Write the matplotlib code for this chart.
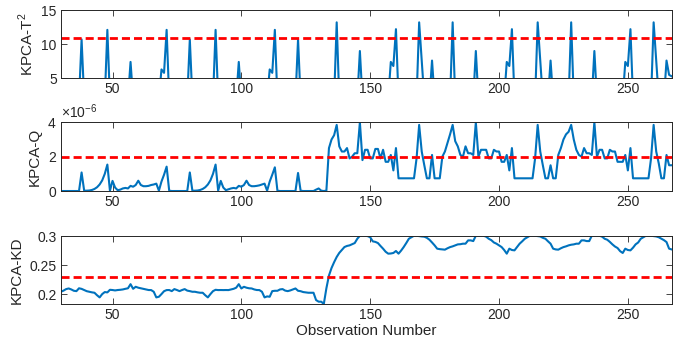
import matplotlib.pyplot as plt
import matplotlib as mpl
import numpy as np
from matplotlib.ticker import ScalarFormatter

mpl.rcParams.update({'font.size': 10,
                     'font.family': ['Liberation Sans', 'DejaVu Sans'],
                     'mathtext.fontset': 'custom',
                     'mathtext.rm': 'Liberation Sans',
                     'axes.unicode_minus': False})

# 观测序号
obs = np.arange(30, 268)

# KPCA-T2 统计量 (低于5的部分被坐标轴截掉)
t2_vals = [2, 2, 2, 2, 2, 2, 2, 2, 10.7, 2,
           2, 2, 2, 2, 2, 2, 2, 2, 12.1, 2,
           2, 2, 2, 2, 2, 2, 2, 7.4, 2, 2,
           2, 2, 2, 2, 2, 2, 2, 2, 2, 6.3,
           5.8, 12.1, 2, 2, 2, 2, 2, 2, 2, 2,
           10.7, 2, 2, 2, 2, 2, 2, 2, 2, 2,
           12.1, 2, 2, 2, 2, 2, 2, 2, 2, 7.4,
           2, 2, 2, 2, 2, 2, 2, 2, 2, 2,
           2, 6.3, 5.8, 12.1, 2, 2, 2, 2, 2, 2,
           2, 2, 10.7, 2, 2, 2, 2, 2, 2, 2,
           2, 2, 2, 2, 2, 2, 2, 13.2, 2, 2,
           2, 2, 2, 2, 2, 2, 9.0, 2, 2, 2,
           2, 2, 2, 2, 2, 2, 2, 2, 7.4, 6.8,
           12.2, 2, 2, 2, 2, 2, 2, 2, 2, 13.2,
           7.5, 2, 2, 2, 7.6, 2, 2, 2, 2, 2,
           2, 2, 13.2, 2, 2, 2, 2, 2, 2, 2,
           2, 9.0, 2, 2, 2, 2, 2, 2, 2, 2,
           2, 2, 2, 7.4, 6.8, 12.2, 2, 2, 2, 2,
           2, 2, 2, 2, 2, 13.2, 7.5, 2, 2, 2,
           7.6, 2, 2, 2, 2, 2, 2, 2, 13.2, 2,
           2, 2, 2, 2, 2, 2, 2, 9.0, 2, 2,
           2, 2, 2, 2, 2, 2, 2, 2, 2, 7.4,
           6.8, 12.2, 2, 2, 2, 2, 2, 2, 2, 2,
           13.2, 7.5, 2, 2, 2, 7.6, 5.5, 5.3]
t2_limit = 10.9

# KPCA-Q 统计量 (单位 1e-6)
q_vals = [0, 0, 0, 0, 0, 0, 0, 0, 1.08, 0.02,
          0.02, 0.03, 0.06, 0.12, 0.22, 0.38, 0.62, 1.0, 1.54, 0.02,
          0.59, 0.2, 0.05, 0.08, 0.15, 0.18, 0.15, 0.3, 0.25, 0.35,
          0.6, 0.35, 0.28, 0.28, 0.3, 0.35, 0.38, 0.43, 0.02, 0.55,
          0.95, 1.42, 0.02, 0, 0, 0, 0, 0, 0, 0,
          1.08, 0.02, 0.02, 0.03, 0.06, 0.12, 0.22, 0.38, 0.62, 1.0,
          1.54, 0.02, 0.59, 0.2, 0.05, 0.1, 0.15, 0.18, 0.15, 0.3,
          0.25, 0.35, 0.6, 0.35, 0.28, 0.28, 0.3, 0.33, 0.38, 0.43,
          0.02, 0.55, 0.95, 1.38, 0.02, 0, 0, 0, 0, 0,
          0, 0, 1.05, 0.02, 0, 0, 0, 0, 0, 0.08,
          0.15, 0.02, 0, 0.02, 2.5, 3.0, 3.25, 3.85, 2.6, 2.3,
          2.3, 2.5, 1.9, 2.0, 2.2, 2.2, 4.0, 1.8, 2.4, 2.4,
          1.9, 1.9, 2.45, 2.45, 1.9, 2.4, 1.7, 1.7, 2.1, 1.2,
          2.5, 0.74, 0.74, 0.74, 0.74, 0.74, 0.74, 0.74, 1.9, 3.85,
          2.3, 1.5, 0.74, 0.74, 2.1, 0.74, 0.74, 0.74, 2.0, 2.3,
          2.8, 3.3, 3.85, 2.9, 2.6, 2.1, 2.0, 2.6, 2.2, 2.2,
          2.1, 4.0, 2.0, 2.4, 2.4, 2.4, 1.9, 1.9, 2.4, 2.3,
          2.3, 1.7, 1.7, 2.1, 1.2, 2.5, 0.74, 0.74, 0.74, 0.74,
          0.74, 0.74, 0.74, 0.74, 1.9, 3.85, 2.3, 1.5, 0.74, 0.74,
          1.5, 0.74, 0.74, 2.1, 2.5, 3.0, 3.3, 3.45, 3.85, 3.0,
          2.4, 2.1, 2.0, 2.5, 2.2, 2.2, 2.1, 4.0, 2.0, 2.4,
          2.4, 1.9, 1.9, 2.4, 2.3, 2.3, 1.7, 1.7, 1.7, 2.1,
          1.2, 2.5, 0.74, 0.74, 0.74, 0.74, 0.74, 0.74, 0.74, 1.9,
          3.85, 2.3, 1.6, 0.74, 0.74, 2.1, 1.5, 1.5]
q_limit = 1.96

# KPCA-KD 统计量
kd_vals = [0.204, 0.206, 0.2086, 0.2097, 0.208, 0.2057, 0.2051, 0.21, 0.209, 0.2069,
           0.205, 0.204, 0.203, 0.2023, 0.198, 0.1943, 0.2, 0.2035, 0.2029, 0.2074,
           0.207, 0.2063, 0.207, 0.2074, 0.208, 0.2091, 0.21, 0.2171, 0.2091, 0.2126,
           0.211, 0.21, 0.2091, 0.208, 0.207, 0.2069, 0.204, 0.1943, 0.1954, 0.2,
           0.205, 0.2069, 0.207, 0.2051, 0.2086, 0.207, 0.2051, 0.207, 0.2086, 0.206,
           0.2051, 0.204, 0.204, 0.203, 0.2023, 0.2023, 0.198, 0.1943, 0.2, 0.2051,
           0.2074, 0.2069, 0.207, 0.2069, 0.207, 0.2069, 0.208, 0.2091, 0.211, 0.2171,
           0.2097, 0.2126, 0.211, 0.21, 0.2097, 0.208, 0.207, 0.2069, 0.204, 0.1943,
           0.196, 0.1954, 0.2051, 0.2057, 0.2057, 0.208, 0.2086, 0.206, 0.2051, 0.2063,
           0.208, 0.2097, 0.2057, 0.205, 0.2035, 0.2029, 0.2023, 0.2023, 0.2023, 0.1897,
           0.1869, 0.1869, 0.1829, 0.21, 0.232, 0.245, 0.255, 0.264, 0.271, 0.276,
           0.2811, 0.283, 0.284, 0.286, 0.288, 0.2954, 0.3006, 0.3006, 0.3006, 0.3,
           0.298, 0.2909, 0.29, 0.288, 0.283, 0.2783, 0.273, 0.2697, 0.27, 0.2709,
           0.2743, 0.2697, 0.275, 0.2811, 0.288, 0.2954, 0.298, 0.3006, 0.3006, 0.3,
           0.2994, 0.299, 0.297, 0.2937, 0.289, 0.284, 0.2783, 0.2775, 0.277, 0.2766,
           0.279, 0.281, 0.2823, 0.284, 0.2857, 0.286, 0.2869, 0.2869, 0.2926, 0.2926,
           0.2914, 0.3006, 0.3006, 0.3006, 0.3006, 0.299, 0.2954, 0.293, 0.289, 0.2869,
           0.284, 0.2811, 0.276, 0.2697, 0.2783, 0.276, 0.2754, 0.281, 0.2869, 0.291,
           0.2954, 0.298, 0.3006, 0.3006, 0.3006, 0.3, 0.2994, 0.297, 0.2954, 0.291,
           0.2869, 0.2783, 0.277, 0.2766, 0.279, 0.281, 0.2823, 0.284, 0.2851, 0.2857,
           0.2869, 0.2869, 0.2926, 0.2926, 0.2914, 0.2914, 0.3006, 0.3006, 0.3006, 0.3006,
           0.299, 0.2954, 0.2937, 0.29, 0.2857, 0.282, 0.2794, 0.274, 0.2709, 0.2783,
           0.276, 0.2754, 0.28, 0.2857, 0.289, 0.2954, 0.298, 0.3006, 0.3006, 0.3006,
           0.3, 0.2994, 0.298, 0.2954, 0.293, 0.2897, 0.2783, 0.277]
kd_limit = 0.2286

x_ticks = [50, 100, 150, 200, 250]

line_blue = '#0072BD'
axis_gray = '#262626'


def style_axis(ax):
    # MATLAB 风格: 刻度朝内, 四边都有刻度
    ax.tick_params(direction='in', top=True, right=True, length=4, width=0.6,
                   colors=axis_gray, labelsize=10, pad=3)
    for sp in ax.spines.values():
        sp.set_color(axis_gray)
        sp.set_linewidth(0.7)
    ax.set_xticks(x_ticks)
    ax.set_xlim(obs[0], obs[-1])


fig = plt.figure(figsize=(6.76, 3.43), dpi=100)
left, width = 0.0902, 0.9034
ax1 = fig.add_axes([left, 0.7717, width, 0.199])
ax2 = fig.add_axes([left, 0.4431, width, 0.2003])
ax3 = fig.add_axes([left, 0.1137, width, 0.199])

# T2
ax1.plot(obs, t2_vals, color=line_blue, lw=1.5)
ax1.plot(obs, [t2_limit] * len(obs), color='red', lw=2, ls='--', dashes=(2.9, 1.45))
ax1.set_ylim(5, 15)
ax1.set_yticks([5, 10, 15])
ax1.set_ylabel('KPCA-T$^2$', fontsize=11, color=axis_gray)
style_axis(ax1)

# Q
q = np.array(q_vals) * 1e-6
ax2.plot(obs, q, color=line_blue, lw=1.5)
ax2.plot(obs, [q_limit * 1e-6] * len(obs), color='red', lw=2, ls='--', dashes=(2.9, 1.45))
ax2.set_ylim(0, 4e-6)
ax2.set_yticks([0, 2e-6, 4e-6])
fmt = ScalarFormatter(useMathText=True)
fmt.set_powerlimits((0, 0))
ax2.yaxis.set_major_formatter(fmt)
ax2.yaxis.get_offset_text().set_fontsize(10)
ax2.yaxis.get_offset_text().set_color(axis_gray)
ax2.set_ylabel('KPCA-Q', fontsize=11, color=axis_gray)
style_axis(ax2)

# KD
ax3.plot(obs, kd_vals, color=line_blue, lw=1.5)
ax3.plot(obs, [kd_limit] * len(obs), color='red', lw=2, ls='--', dashes=(2.9, 1.45))
ax3.set_ylim(min(kd_vals), max(kd_vals))
ax3.set_yticks([0.2, 0.25, 0.3])
ax3.set_yticklabels(['0.2', '0.25', '0.3'])
ax3.set_ylabel('KPCA-KD', fontsize=11, color=axis_gray)
ax3.set_xlabel('Observation Number', fontsize=11, color=axis_gray, labelpad=1)
style_axis(ax3)

plt.savefig('out.png', dpi=100)
